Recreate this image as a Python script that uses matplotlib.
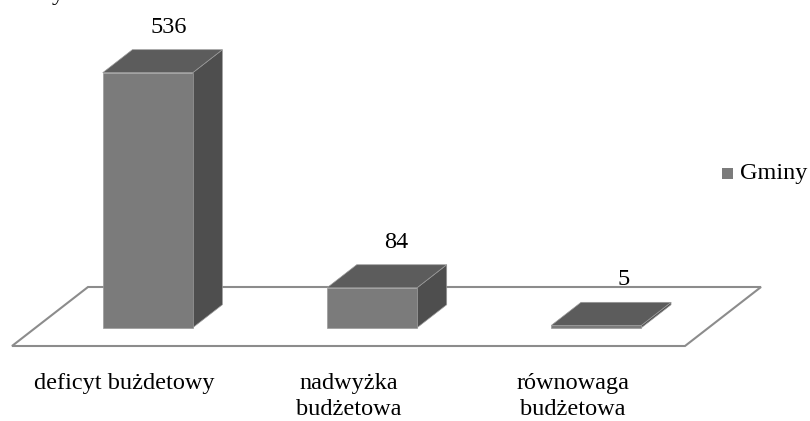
import numpy as np
import matplotlib.pyplot as plt
from matplotlib.patches import Polygon, Rectangle

# data
categories = ['deficyt bużdetowy', 'nadwyżka\nbudżetowa', 'równowaga\nbudżetowa']
values = [536, 84, 5]
series_name = 'Gminy'

# colours
c_front = '#7b7b7b'
c_top = '#5c5c5c'
c_side = '#4e4e4e'
c_floor = '#8c8c8c'

plt.rcParams['font.family'] = ['Liberation Serif', 'DejaVu Serif']
fs = 17.5

fig = plt.figure(figsize=(8.10, 4.21), dpi=100)
ax = fig.add_axes([0, 0, 1, 1])
ax.set_xlim(0, 810)
ax.set_ylim(421, 0)
ax.axis('off')

# floor geometry (pixel space)
floor_x0, floor_x1, floor_y = 12, 685, 346
depth = np.array([76, -59])
ax.add_patch(Polygon([(floor_x0, floor_y), (floor_x0 + depth[0], floor_y + depth[1]),
                      (floor_x1 + depth[0], floor_y + depth[1]), (floor_x1, floor_y)],
                     closed=True, facecolor='white', edgecolor=c_floor, lw=1.5, zorder=1))

# value -> pixels
k = 255.0 / 536
n = len(values)
slot = (floor_x1 - floor_x0) / n
bar_w = 90
f0 = 0.31   # depth fraction where bar front sits
f1 = 0.39   # bar depth as fraction of floor depth
off0 = depth * f0
bd = depth * f1

for i, (cat, v) in enumerate(zip(categories, values)):
    cx = floor_x0 + slot * (i + 0.5)
    x0 = cx - bar_w / 2 + off0[0]
    yb = floor_y + off0[1]
    h = v * k
    yt = yb - h
    ec = '#9a9a9a'
    # side
    ax.add_patch(Polygon([(x0 + bar_w, yb), (x0 + bar_w + bd[0], yb + bd[1]),
                          (x0 + bar_w + bd[0], yt + bd[1]), (x0 + bar_w, yt)],
                         closed=True, facecolor=c_side, edgecolor=ec, lw=0.5, zorder=2))
    # top
    ax.add_patch(Polygon([(x0, yt), (x0 + bd[0], yt + bd[1]),
                          (x0 + bar_w + bd[0], yt + bd[1]), (x0 + bar_w, yt)],
                         closed=True, facecolor=c_top, edgecolor=ec, lw=0.5, zorder=2))
    # front
    ax.add_patch(Rectangle((x0, yt), bar_w, h, facecolor=c_front, edgecolor=ec,
                           lw=0.5, zorder=3))
    # value label
    ax.text(x0 + bar_w / 2 + bd[0] / 2 + 6 + 3 * i, yt + bd[1] / 2 - 34, str(v),
            ha='center', va='center', fontsize=fs, color='black')
    # category label
    ax.text(cx, 373, cat, ha='center', va='top', fontsize=fs,
            linespacing=1.3, color='black')

# legend
ax.add_patch(Rectangle((722, 168), 11, 11, facecolor=c_front, edgecolor='none'))
ax.text(740, 173, series_name, ha='left', va='center', fontsize=fs)

# cut-off text fragment at the top edge (as in the source image)
fig.text(58 / 810, 1.0, 'y', ha='center', va='baseline', fontsize=fs)

fig.savefig('out.png', dpi=100)
